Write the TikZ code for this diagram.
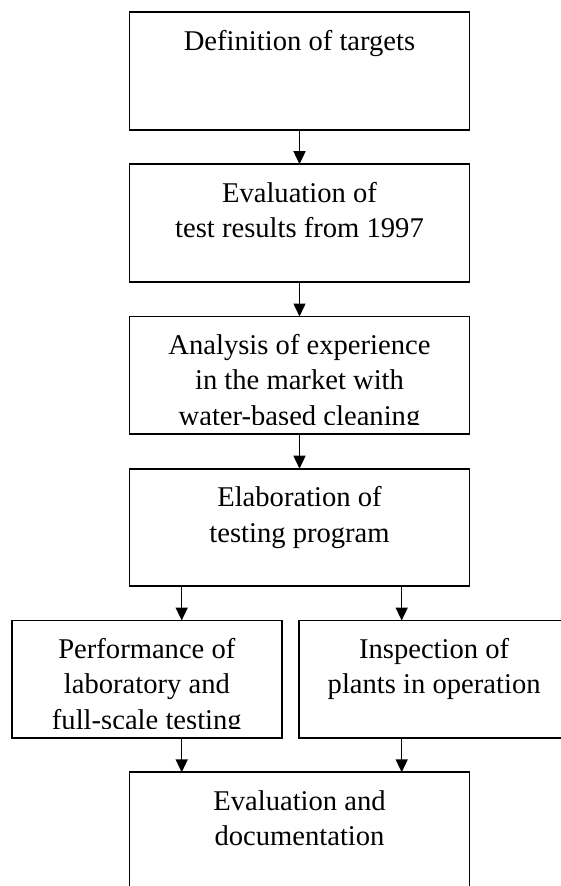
\documentclass[tikz,border=0pt]{standalone}
\usepackage{fontspec}
\setmainfont{Liberation Serif}
\usetikzlibrary{arrows.meta}
\newcommand\firstln{\rule{0pt}{0.8em}}
\begin{document}
\begin{tikzpicture}[x=1pt,y=-1pt,
  box/.style={draw, line width=1.8pt, rectangle, minimum width=340pt, minimum height=117.5pt, inner sep=0pt, outer sep=0pt, anchor=north west},
  sbox/.style={box, minimum width=270.3pt},
  txt/.style={font=\fontsize{28.6}{35.5}\selectfont, align=center, inner sep=0pt, anchor=north},
  arr/.style={line width=1.5pt, -{Triangle[length=13pt,width=12pt]}}]
\clip (0,0) rectangle (561,886);
\fill[white] (0,0) rectangle (561,886);
\coordinate (xl) at (181.7,0);
\coordinate (xr) at (401.7,0);
\node[box] (b1) at (129.5,12.3) {};
\node[box] (b2) at (129.5,164.2) {};
\node[box] (b3) at (129.5,316.5) {};
\node[box] (b4) at (129.5,468.7) {};
\node[sbox] (b5) at (11.7,620.5) {};
\node[sbox] (b6) at (299,620.5) {};
\node[box] (b7) at (129.5,772.3) {};
\foreach \b/\t in {b1/{\firstln Definition of targets},
                   b2/{\firstln Evaluation of\\test results from 1997},
                   b3/{\firstln Analysis of experience\\in the market with\\water-based cleaning},
                   b4/{\firstln Elaboration of\\testing program},
                   b5/{\firstln Performance of\\laboratory and\\full-scale testing},
                   b6/{\firstln Inspection of\\plants in operation},
                   b7/{\firstln Evaluation and\\documentation}}{
  \begin{scope}
    \clip (\b.north west) rectangle ([yshift=9.5pt]\b.south east);
    \node[txt] (t\b) at ([yshift=-14.8pt]\b.north) {\t};
  \end{scope}
}
\draw[arr] (b1.south) -- (b2.north);
\draw[arr] (b2.south) -- (b3.north);
\draw[arr] (b3.south) -- (b4.north);
\draw[arr] (b4.south -| xl) -- (b5.north -| xl);
\draw[arr] (b4.south -| xr) -- (b6.north -| xr);
\draw[arr] (b5.south -| xl) -- (b7.north -| xl);
\draw[arr] (b6.south -| xr) -- (b7.north -| xr);
\end{tikzpicture}
\end{document}
